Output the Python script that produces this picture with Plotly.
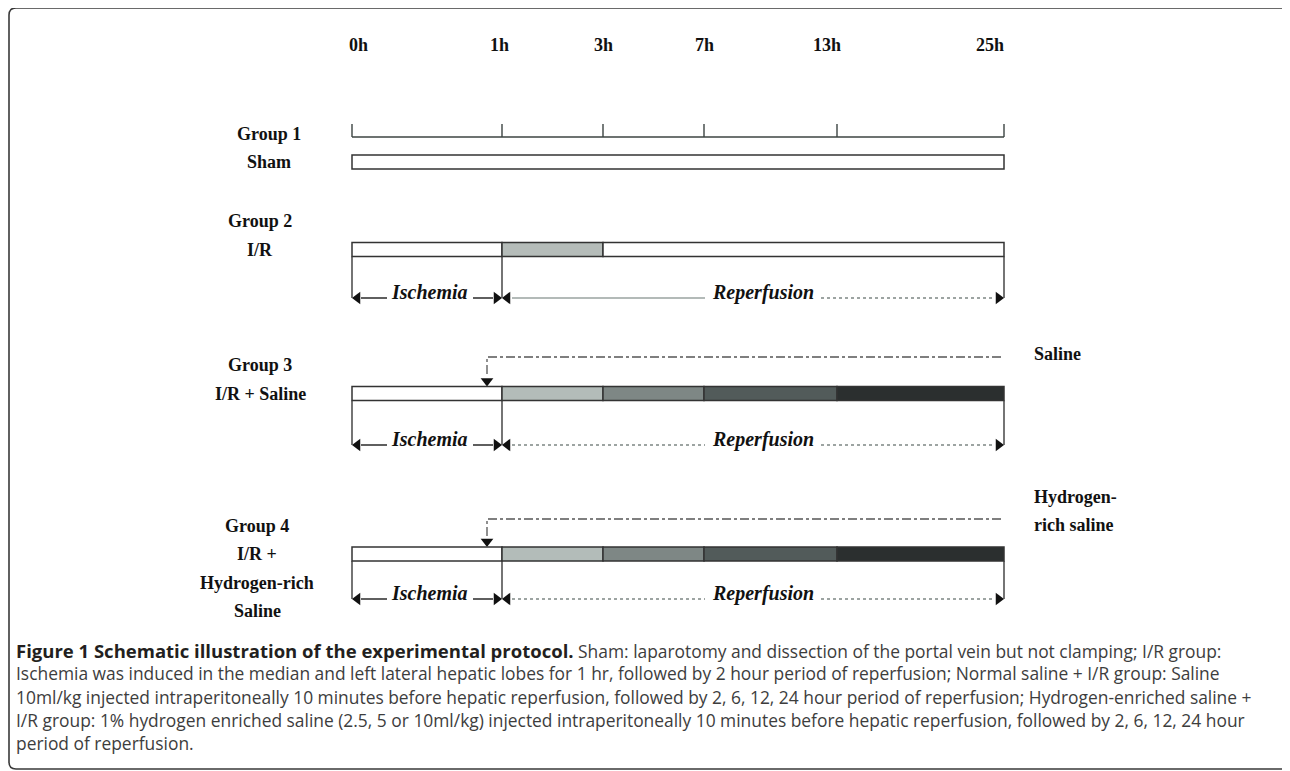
import numpy as np
import plotly.graph_objects as go

# ---------------- data ----------------
hours = [0, 1, 3, 7, 13, 25]
time_labels = ["0h", "1h", "3h", "7h", "13h", "25h"]
groups = ["Group 1", "Group 2", "Group 3", "Group 4"]
group_sub = [["Sham"], ["I/R"], ["I/R + Saline"], ["I/R +", "Hydrogen-rich", "Saline"]]
# segment boundaries (hours) and fill colours for each group's bar
seg_bounds = [[0, 25], [0, 1, 3, 25], [0, 1, 3, 7, 13, 25], [0, 1, 3, 7, 13, 25]]
seg_colors = [["#ffffff"],
              ["#ffffff", "#b5bcb9", "#ffffff"],
              ["#ffffff", "#b3bcb9", "#7e8785", "#525b5a", "#2b2f2f"],
              ["#ffffff", "#b3bcb9", "#7e8785", "#525b5a", "#2b2f2f"]]
has_arrows = [False, True, True, True]
injection = [None, None, ["Saline"], ["Hydrogen-", "rich saline"]]
injection_hour = 0.9
phase_labels = ["Ischemia", "Reperfusion"]
caption = [
    ("Figure 1 Schematic illustration of the experimental protocol.",
     " Sham: laparotomy and dissection of the portal vein but not clamping; I/R group:"),
    ("", "Ischemia was induced in the median and left lateral hepatic lobes for 1 hr, followed by 2 hour period of reperfusion; Normal saline + I/R group: Saline"),
    ("", "10ml/kg injected intraperitoneally 10 minutes before hepatic reperfusion, followed by 2, 6, 12, 24 hour period of reperfusion; Hydrogen-enriched saline +"),
    ("", "I/R group: 1% hydrogen enriched saline (2.5, 5 or 10ml/kg) injected intraperitoneally 10 minutes before hepatic reperfusion, followed by 2, 6, 12, 24 hour"),
    ("", "period of reperfusion."),
]

# ---------------- layout constants ----------------
W, H = 1290, 771
PAGE_MARGIN = 8          # browser body margin
TICK_X = [352, 502, 603, 704, 837, 1004]       # schematic position of each time mark
LABEL_DX = [6, -3, 0, 0, -10, -14]
LABEL_Y = 45
AXIS_Y, TICK_LEN = 137, 13
BAR_Y = [162, 249.5, 393.5, 554]
BAR_H = 14
ARROW_Y = [None, 298, 445, 599]
INJ_Y = [None, None, 357, 519]
INJ_LABEL_Y = [None, None, [354], [497, 525]]
LABEL_CX = [269, 260, 260, 257]
LINE_GAP = 28.5
CAP_Y0, CAP_DY = 650, 23.3

SERIF = "Liberation Serif"
DARK = "#2a2a2a"


def X(h):
    return float(np.interp(h, hours, TICK_X))


shapes, annotations = [], []
fig = go.Figure()


def line(x0, y0, x1, y1, color=DARK, width=1.5, dash="solid"):
    shapes.append(dict(type="line", xref="x", yref="y", x0=x0, y0=y0, x1=x1, y1=y1,
                       line=dict(color=color, width=width, dash=dash)))


def text(x, y, s, size, color="#111", xanchor="center", family=SERIF, yanchor="middle"):
    annotations.append(dict(x=x, y=y, xref="x", yref="y", text=s, showarrow=False,
                            xanchor=xanchor, yanchor=yanchor, align="left",
                            font=dict(family=family, size=size, color=color)))


# frame
shapes.append(dict(type="path", xref="x", yref="y",
                   path="M 1288,790 L 1288,15 Q 1288,8 1281,8 L 16,8 Q 9,8 9,15 "
                        "L 9,762 Q 9,769 16,769 L 1300,769",
                   line=dict(color="#3a3a3a", width=1.6)))

# time axis
line(X(hours[0]), AXIS_Y, X(hours[-1]), AXIS_Y, color="#3c4442", width=1.6)
for h, lab, dx in zip(hours, time_labels, LABEL_DX):
    line(X(h), AXIS_Y - TICK_LEN, X(h), AXIS_Y, color="#3c4442", width=1.4)
    text(X(h) + dx, LABEL_Y, "<b>" + lab + "</b>", 18)

tri_x, tri_y, tri_sym = [], [], []

for gi, g in enumerate(groups):
    yc = BAR_Y[gi]
    top, bot = yc - BAR_H / 2, yc + BAR_H / 2
    b = seg_bounds[gi]
    for k in range(len(b) - 1):
        shapes.append(dict(type="rect", xref="x", yref="y", x0=X(b[k]), x1=X(b[k + 1]),
                           y0=top, y1=bot, fillcolor=seg_colors[gi][k],
                           line=dict(color="#333", width=1.5)))
    lines_ = [g] + group_sub[gi]
    for li, s in enumerate(lines_):
        text(LABEL_CX[gi], yc + (li - 1) * LINE_GAP, "<b>" + s + "</b>", 18)

    if has_arrows[gi]:
        ya = ARROW_Y[gi]
        for h in (hours[0], hours[1], hours[-1]):
            line(X(h), bot, X(h), ya, color="#3a3a3a", width=1.4)
        ci = (X(0) + X(1)) / 2 + 2
        line(X(0) + 9, ya, ci - 42, ya, color=DARK, width=1.5)
        line(ci + 44, ya, X(1) - 9, ya, color=DARK, width=1.5)
        text(ci, ya - 6, "<b><i>" + phase_labels[0] + "</i></b>", 20)
        cr = 763
        if gi == 1:
            line(X(1) + 10, ya, cr - 58, ya, color="#9aa3a1", width=1.5)
        else:
            line(X(1) + 10, ya, cr - 58, ya, color="#7d8684", width=1.4, dash="dot")
        line(cr + 58, ya, X(25) - 10, ya, color="#7d8684", width=1.4, dash="dot")
        text(cr, ya - 6, "<b><i>" + phase_labels[1] + "</i></b>", 20)
        tri_x += [X(0) + 5.5, X(1) - 5.5, X(1) + 5.5, X(25) - 5.5]
        tri_y += [ya] * 4
        tri_sym += ["triangle-left", "triangle-right", "triangle-left", "triangle-right"]

    if injection[gi]:
        yi = INJ_Y[gi]
        xi = X(injection_hour)
        shapes.append(dict(type="path", xref="x", yref="y",
                           path=f"M {X(25) - 3},{yi} L {xi},{yi} L {xi},{top - 10}",
                           line=dict(color="#555", width=1.3, dash="dashdot")))
        tri_x.append(xi)
        tri_y.append(top - 5.5)
        tri_sym.append("triangle-down")
        for s, yl in zip(injection[gi], INJ_LABEL_Y[gi]):
            text(1032, yl, "<b>" + s + "</b>", 18, xanchor="left")

fig.add_trace(go.Scatter(x=tri_x, y=tri_y, mode="markers", hoverinfo="skip",
                         marker=dict(symbol=tri_sym, size=11, color="#111",
                                     line=dict(width=0))))

for i, (bold, rest) in enumerate(caption):
    s = ""
    if bold:
        s += "<span style='color:#231f20;font-size:18.5px'><b>" + bold + "</b></span>"
    s += "<span style='color:#3d3d3d'>" + rest + "</span>"
    text(14, CAP_Y0 + i * CAP_DY, s, 17.4, xanchor="left", family="Open Sans")

fw, fh = W - PAGE_MARGIN, H - PAGE_MARGIN
fig.update_layout(
    width=fw, height=fh, margin=dict(l=0, r=0, t=0, b=0),
    paper_bgcolor="white", plot_bgcolor="white", showlegend=False,
    xaxis=dict(range=[PAGE_MARGIN, W], visible=False, fixedrange=True),
    yaxis=dict(range=[H, PAGE_MARGIN], visible=False, fixedrange=True),
    shapes=shapes, annotations=annotations,
)
fig.write_html("out.html")
